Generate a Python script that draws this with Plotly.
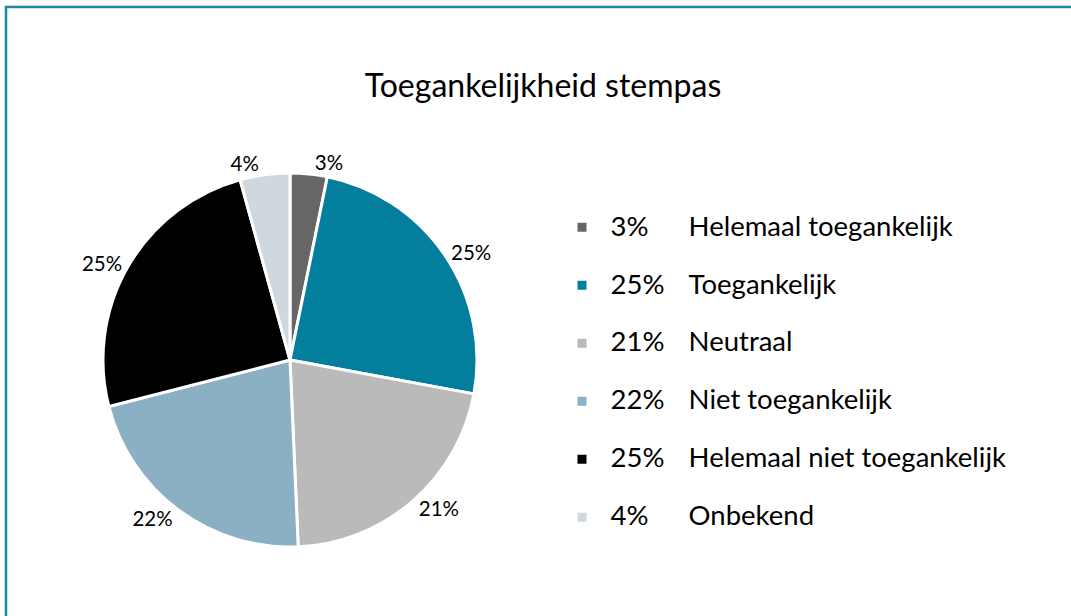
import plotly.graph_objects as go

title_text = "Toegankelijkheid stempas"
categories = ["Helemaal toegankelijk", "Toegankelijk", "Neutraal",
              "Niet toegankelijk", "Helemaal niet toegankelijk", "Onbekend"]
values = [3.2, 24.7, 21.4, 21.7, 24.7, 4.3]
colors = ["#666666", "#037E9C", "#BABABA", "#8CB0C3", "#000000", "#CFD8DF"]

FONT = "Lato, 'Open Sans', sans-serif"
W, H = 1071, 616

pct_text = [f"{round(v)}%" for v in values]
legend_labels = []
for p, name in zip(pct_text, categories):
    pad = "\u2007" * (3 - len(p))
    legend_labels.append(
        f"<span style='font-size:27.5px'>\u2009\u2009\u200a{p}{pad}\u2002\u2009\u2009\u2009{name}</span><br>\u00a0"
    )

cx, cy, r = 290, 360, 187
fig = go.Figure(go.Pie(
    labels=legend_labels,
    values=values,
    text=pct_text,
    textinfo="text",
    textposition="outside",
    textfont=dict(family=FONT, size=20.5, color="#000000"),
    marker=dict(colors=colors, line=dict(color="#FFFFFF", width=3)),
    sort=False,
    direction="clockwise",
    rotation=0,
    domain=dict(x=[(cx - r) / W, (cx + r) / W],
                y=[(H - cy - r) / H, (H - cy + r) / H]),
    hoverinfo="skip",
))

fig.update_layout(
    width=W, height=H,
    margin=dict(l=0, r=0, t=0, b=0),
    paper_bgcolor="#FFFFFF",
    plot_bgcolor="#FFFFFF",
    title=dict(text=title_text, x=543 / W, xanchor="center",
               y=(H - 86) / H, yanchor="middle",
               font=dict(family=FONT, size=32, color="#000000")),
    showlegend=True,
    legend=dict(x=562 / W, xanchor="left", y=(H - 207) / H, yanchor="top",
                font=dict(family=FONT, size=21.15, color="#000000"),
                valign="top", bgcolor="rgba(0,0,0,0)",
                itemclick=False, itemdoubleclick=False),
    shapes=[dict(type="rect", xref="paper", yref="paper",
                 x0=6 / W, x1=1.02, y0=-0.02, y1=(H - 7) / H,
                 line=dict(color="#1B87A2", width=2.5), fillcolor="rgba(0,0,0,0)")],
)

fig.write_html("out.html",
               config={"displayModeBar": False},
               post_script="document.body.style.margin='0';document.body.style.overflow='hidden';")
